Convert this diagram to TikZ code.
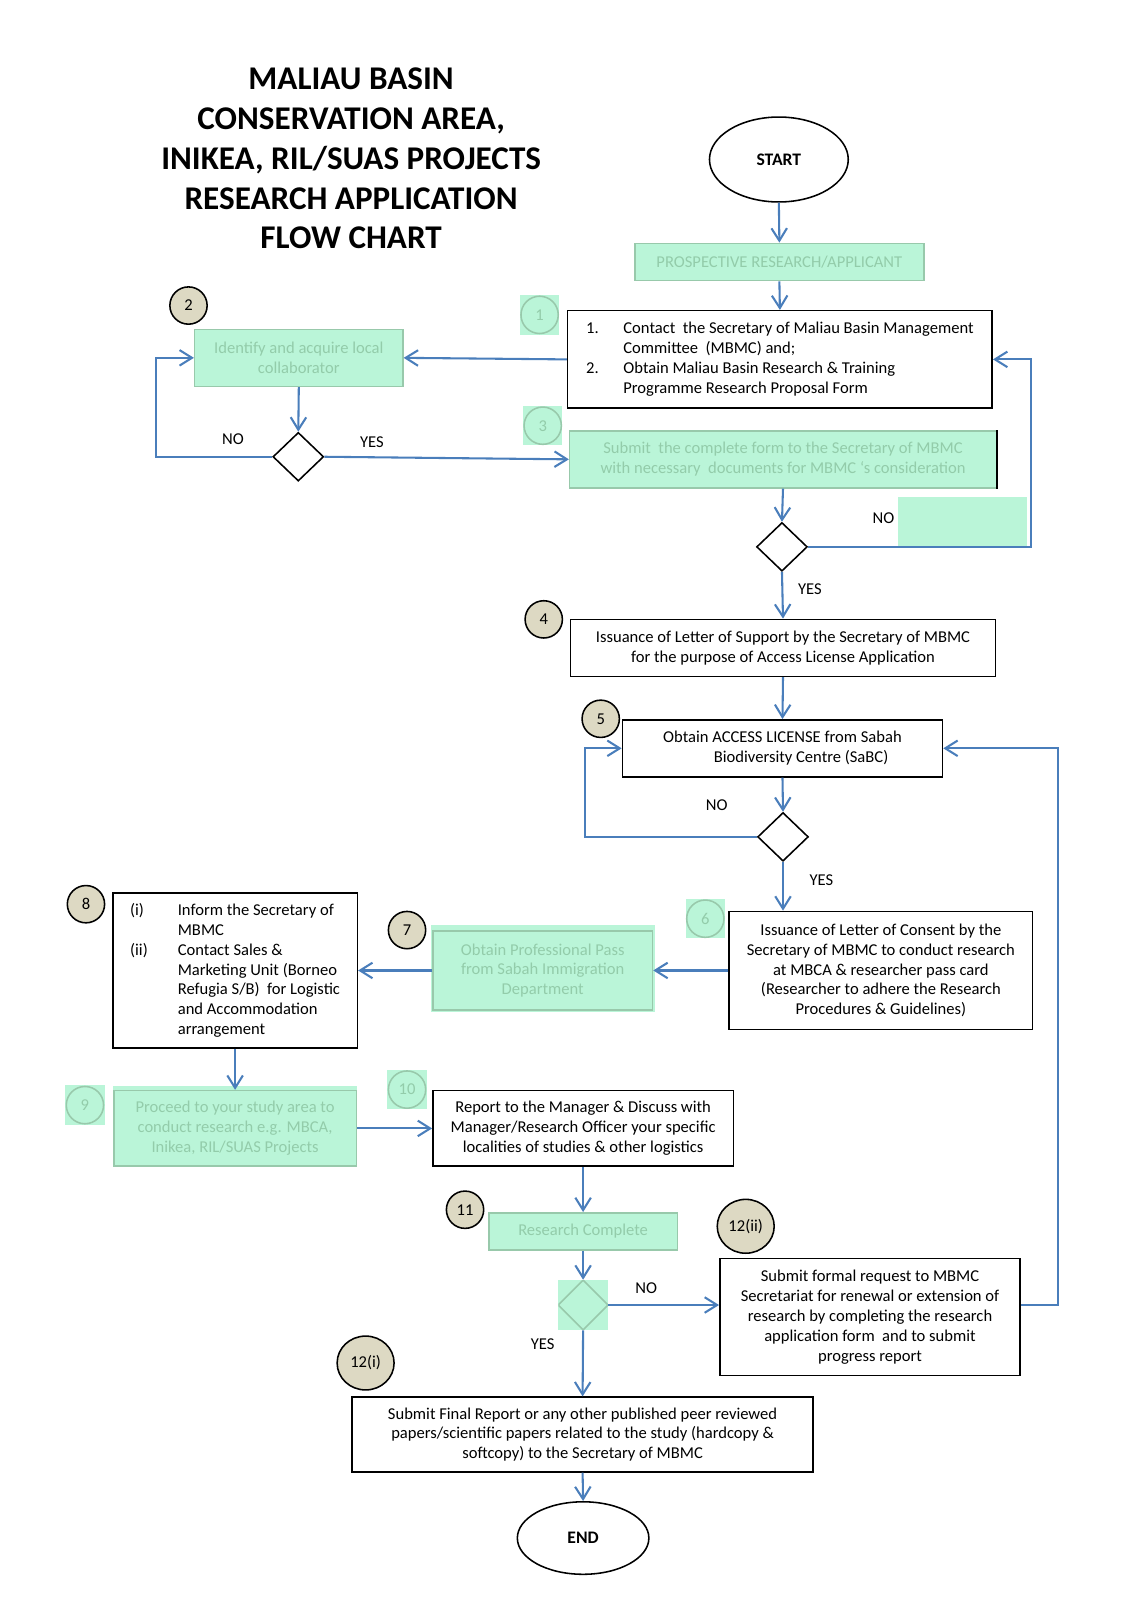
\documentclass[tikz,border=0pt]{standalone}
\usepackage{fontspec}
\setmainfont{Carlito}
\usetikzlibrary{shapes.geometric,arrows.meta,calc}
\definecolor{flowblue}{HTML}{4A7EBB}
\definecolor{mintfill}{HTML}{BAF5D8}
\definecolor{minttext}{HTML}{93CCAA}
\definecolor{mintline}{HTML}{98C9AB}
\definecolor{tanfill}{HTML}{DDD9C3}
\tikzset{%
  boxtext/.style  = {font=\fontsize{8}{9.6}\selectfont},%
  procbox/.style  = {shape=rectangle, draw=black, line width=0.75pt,%
                     fill=white, align=center, inner sep=2pt, boxtext},%
  greenbox/.style = {procbox, draw=mintline, fill=mintfill, text=minttext},%
  terminal/.style = {shape=ellipse, draw=black, line width=0.75pt,%
                     font=\fontsize{8.5}{10}\selectfont\bfseries},%
  decision/.style = {shape=diamond, draw=black, line width=0.75pt, fill=white,%
                     inner sep=0pt, minimum width=24.5pt, minimum height=23.5pt},%
  numcirc/.style  = {shape=circle, draw=black, line width=0.75pt, fill=tanfill,%
                     inner sep=0pt, minimum size=18pt, boxtext},%
  greencirc/.style= {shape=rectangle, fill=mintfill, inner sep=0pt,%
                     minimum size=19pt, text=minttext, boxtext,%
                     path picture={\draw[mintline, line width=0.75pt]%
                       (path picture bounding box.center) circle (9pt);}},%
  flowline/.style = {draw=flowblue, line width=1pt},%
  flowarrow/.style= {flowline, -{Straight Barb[length=6pt,width=7.5pt]}}%
}

\begin{document}
\begin{tikzpicture}[x=0.5pt, y=-0.5pt,
	choice/.style = {boxtext, inner sep=0pt}]
	\useasboundingbox (0,0) rectangle (1086,1568);
	% title
	\node (title) at (339,153) [align=center,
		font=\fontsize{16}{19.25}\selectfont\bfseries]
		{MALIAU BASIN\\ CONSERVATION AREA,\\ INIKEA, RIL/SUAS PROJECTS\\
		 RESEARCH APPLICATION\\ FLOW CHART};
	% green patches behind boxes
	\fill[mintfill] (867,480) rectangle (992,527);
	\fill[mintfill] (416,893) rectangle (632,977);
	\fill[mintfill] (109,1049) rectangle (345,1127);
	% boxes
	\node (start) at (752,154) [terminal, minimum width=67pt, minimum height=41pt] {START};
	\node (prosp) at (752.5,253) [greenbox, minimum width=139.5pt, minimum height=18pt]
		{PROSPECTIVE RESEARCH/APPLICANT};
	\node (box1) at (753,347) [procbox, align=left, minimum width=205pt, minimum height=47pt]
		{\makebox[18pt][l]{1.}Contact\ \ the Secretary of Maliau Basin Management\\
		 \hspace*{18pt}Committee\ \ (MBMC) and;\\
		 \makebox[18pt][l]{2.}Obtain Maliau Basin Research \& Training\\
		 \hspace*{18pt}Programme Research Proposal Form};
	\node (box2) at (288.5,345.5) [greenbox, minimum width=100.5pt, minimum height=27.5pt]
		{Identify and acquire local\\ collaborator};
	\node (box3) at (756,443.5) [greenbox, minimum width=206pt, minimum height=27.5pt]
		{Submit\ \ the complete form to the Secretary of MBMC\\
		 with necessary\ \ documents for MBMC ‘s consideration};
	\draw[line width=0.75pt] (box3.north east) -- (box3.south east);
	\node (box4) at (756,625.5) [procbox, minimum width=205pt, minimum height=27.5pt]
		{Issuance of Letter of Support by the Secretary of MBMC\\
		 for the purpose of Access License Application};
	\node (box5) at (755.5,722.5) [procbox, minimum width=154.5pt, minimum height=27.5pt]
		{Obtain ACCESS LICENSE from Sabah\\ \hspace*{18pt}Biodiversity Centre (SaBC)};
	\node (box6) at (850.5,937) [procbox, minimum width=146.5pt, minimum height=57pt]
		{Issuance of Letter of Consent by the\\ Secretary of MBMC to conduct research\\
		 at MBCA \& researcher pass card\\ (Researcher to adhere the Research\\
		 Procedures \& Guidelines)};
	\node (box7) at (524,937) [greenbox, minimum width=106pt, minimum height=38pt]
		{Obtain Professional Pass\\ from Sabah Immigration\\ Department};
	\node (box8) at (227,937) [procbox, align=left, minimum width=118pt, minimum height=75pt]
		{\makebox[23pt][l]{(i)}Inform the Secretary of\\
		 \hspace*{23pt}MBMC\\
		 \makebox[23pt][l]{(ii)}Contact Sales \&\\
		 \hspace*{23pt}Marketing Unit (Borneo\\
		 \hspace*{23pt}Refugia S/B)\ \ for Logistic\\
		 \hspace*{23pt}and Accommodation\\
		 \hspace*{23pt}arrangement};
	\node (box9) at (227,1089.5) [greenbox, minimum width=117pt, minimum height=36.5pt]
		{Proceed to your study area to\\ conduct research e.g. MBCA,\\
		 Inikea, RIL/SUAS Projects};
	\node (box10) at (563,1089.5) [procbox, minimum width=145pt, minimum height=36.5pt]
		{Report to the Manager \& Discuss with\\ Manager/Research Officer your specific\\
		 localities of studies \& other logistics};
	\node (box11) at (563,1189) [greenbox, minimum width=91pt, minimum height=18pt]
		{Research Complete};
	\node (box12ii) at (840,1271.5) [procbox, minimum width=145pt, minimum height=56.5pt]
		{Submit formal request to MBMC\\ Secretariat for renewal or extension of\\
		 research by completing the research\\ application form\ \ and to submit\\
		 progress report};
	\node (box12i) at (562.5,1385) [procbox, minimum width=222.5pt, minimum height=36pt]
		{Submit Final Report or any other published peer reviewed\\
		 papers/scientific papers related to the study (hardcopy \&\\
		 softcopy) to the Secretary of MBMC};
	\node (end) at (563,1485) [terminal, minimum width=63.5pt, minimum height=35pt] {END};
	% decisions
	\node (dec1) at (288,441) [decision] {};
	\node (dec2) at (755,528) [decision] {};
	\node (dec3) at (756,808) [decision] {};
	\node (dec4) at (563,1260) [shape=rectangle, fill=mintfill, inner sep=0pt,
		minimum size=24pt, path picture={\draw[mintline, line width=0.75pt]
		(path picture bounding box.north) -- (path picture bounding box.east)
		-- (path picture bounding box.south) -- (path picture bounding box.west)
		-- cycle;}] {};
	% step numbers
	\node (n1) at (521,304) [greencirc] {1};
	\node (n2) at (182,295) [numcirc] {2};
	\node (n3) at (524,411) [greencirc] {3};
	\node (n4) at (525,598) [numcirc] {4};
	\node (n5) at (580,694) [numcirc] {5};
	\node (n6) at (681,887) [greencirc] {6};
	\node (n7) at (393,898) [numcirc] {7};
	\node (n8) at (83,873) [numcirc] {8};
	\node (n9) at (82,1067) [greencirc] {9};
	\node (n10) at (393,1052) [greencirc] {10};
	\node (n11) at (449,1168) [numcirc] {11};
	\node (n12ii) at (720,1184) [numcirc, shape=ellipse, minimum width=27.5pt,
		minimum height=26pt] {12(ii)};
	\node (n12i) at (353,1316) [numcirc, shape=ellipse, minimum width=27.5pt,
		minimum height=26pt] {12(i)};
	% yes / no
	\node (no1) at (225,424) [choice] {NO};
	\node (yes1) at (359,427) [choice] {YES};
	\node (no2) at (853,500) [choice] {NO};
	\node (yes2) at (782,569) [choice] {YES};
	\node (no3) at (692,777) [choice] {NO};
	\node (yes3) at (793,850) [choice] {YES};
	\node (no4) at (624,1244) [choice] {NO};
	\node (yes4) at (524,1298) [choice] {YES};
	% connectors
	\draw[flowarrow] (start.south) -- (prosp.north);
	\draw[flowarrow] (prosp.south) -- (box1.north);
	\draw[flowarrow] (box1.west) -- (box2.east);
	\draw[flowarrow] (box2.south) -- (dec1.north);
	\draw[flowarrow] (dec1.west) -- ++(-112,0) |- (box2.west);
	\draw[flowarrow] (dec1.east) -- (box3.west);
	\draw[flowarrow] (box3.south) -- (dec2.north);
	\draw[flowarrow] (dec2.east) -- ++(215,0) |- (box1.east);
	\draw[flowarrow] (dec2.south) -- (box4.north);
	\draw[flowarrow] (box4.south) -- (box5.north);
	\draw[flowarrow] (box5.south) -- (dec3.north);
	\draw[flowarrow] (dec3.west) -- ++(-166,0) |- (box5.west);
	\draw[flowarrow] (dec3.south) -- (dec3.south |- box6.north);
	\draw[flowarrow] (box6.west) -- (box7.east);
	\draw[flowarrow] (box7.west) -- (box8.east);
	\draw[flowarrow] (box8.south) -- (box9.north);
	\draw[flowarrow] (box9.east) -- (box10.west);
	\draw[flowarrow] (box10.south) -- (box11.north);
	\draw[flowarrow] (box11.south) -- (dec4.north);
	\draw[flowarrow] (dec4.east) -- (dec4.east -| box12ii.west);
	\draw[flowarrow] (dec4.south) -- (box12i.north);
	\draw[flowarrow] (box12ii.east |- dec4.east) -- ++(36,0) |- (box5.east);
	\draw[flowarrow] (box12i.south) -- (end.north);
\end{tikzpicture}
\end{document}
